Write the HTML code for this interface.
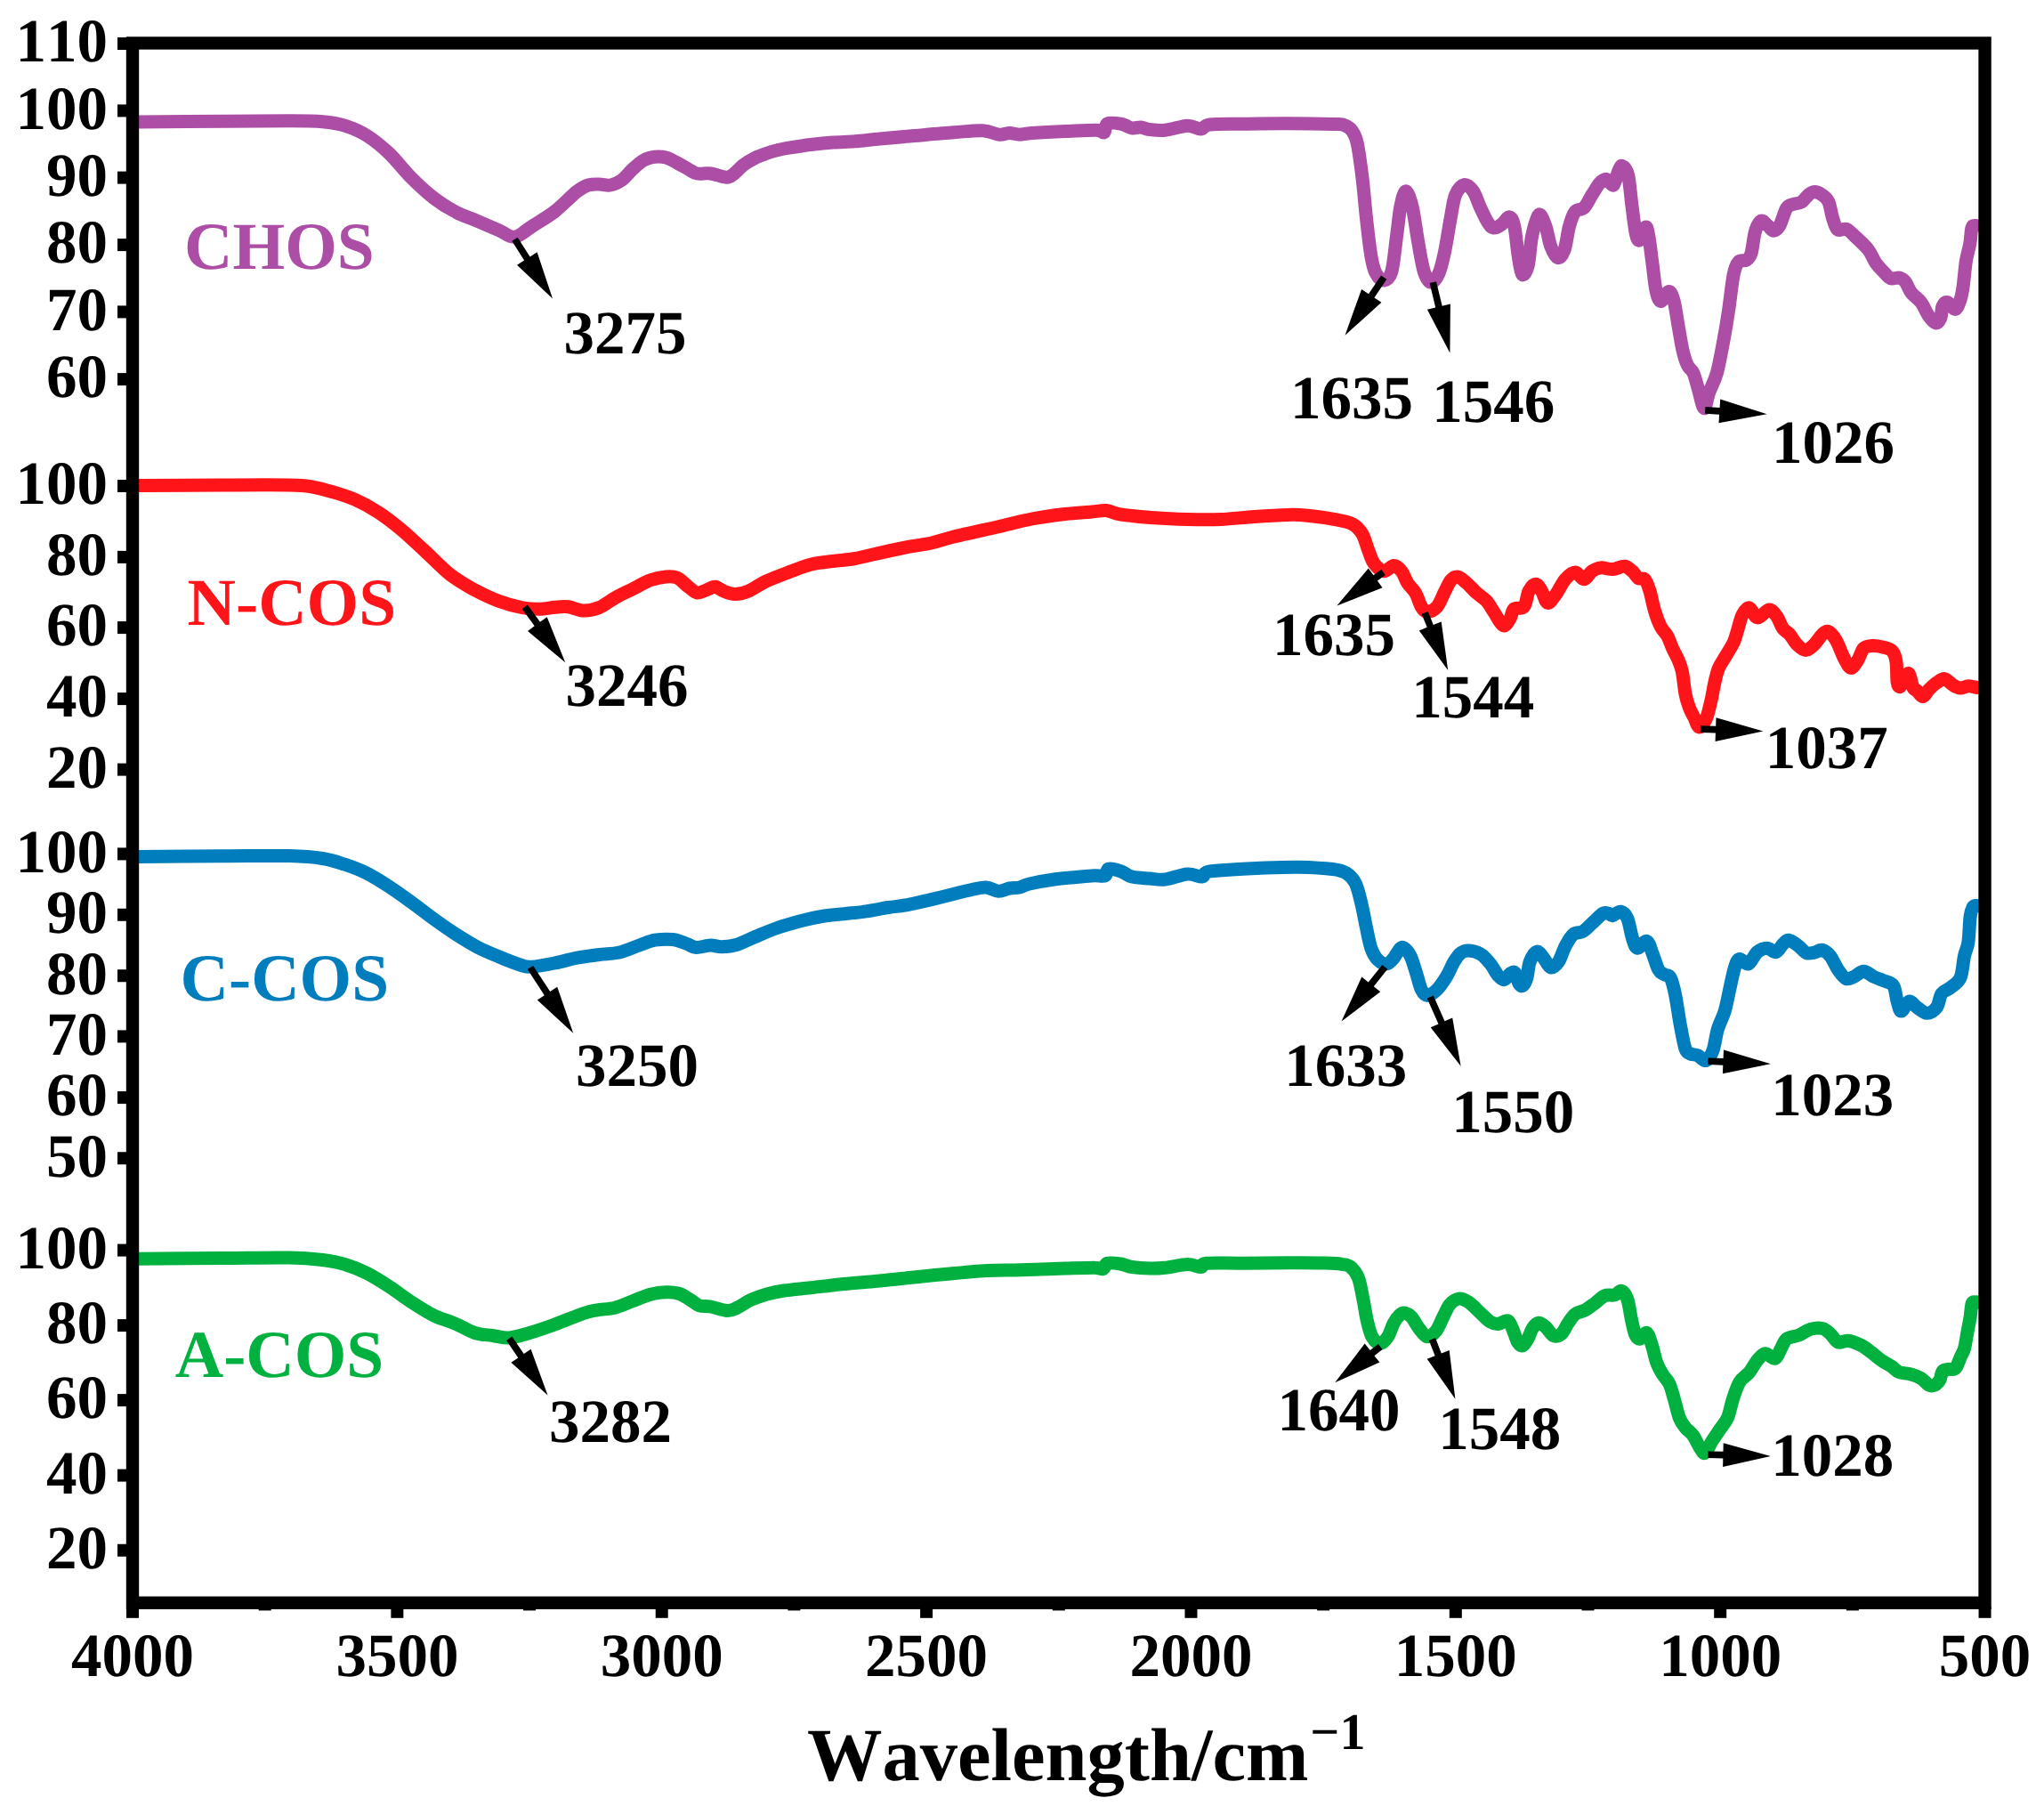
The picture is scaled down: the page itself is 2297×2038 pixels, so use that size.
<!DOCTYPE html>
<html lang="en"><head><meta charset="utf-8"><title>FTIR spectra</title>
<style>html,body{margin:0;padding:0;background:#fff}body{width:2297px;height:2038px;overflow:hidden}svg{display:block}text{font-family:"Liberation Serif","Times New Roman",serif;font-weight:bold;font-kerning:none;font-variant-ligatures:none;text-rendering:geometricPrecision}.t{font-size:69.0px}.s{font-size:75.4px}.x{font-size:84.5px}</style></head><body>
<svg width="2297" height="2038" viewBox="0 0 2297 2038">
<rect width="2297" height="2038" fill="#fff"/>
<clipPath id="pc"><rect x="150" y="49" width="2079" height="1751"/></clipPath>
<g fill="none" stroke-width="15.0" stroke-linejoin="round" stroke-linecap="round" clip-path="url(#pc)">
<path stroke="#AC4DA6" d="M149.0 136.9C150.2 136.9 139.4 137.0 156.2 136.9C173.1 136.8 221.9 136.5 250.0 136.3C278.1 136.1 306.2 135.7 325.0 135.8C343.8 135.9 352.1 135.9 362.5 136.8C372.9 137.7 379.2 138.6 387.5 141.2C395.8 143.9 404.2 147.3 412.5 152.5C420.8 157.7 429.2 164.6 437.5 172.5C445.8 180.4 454.2 191.7 462.5 200.0C470.8 208.3 479.4 216.2 487.5 222.5C495.6 228.8 502.9 233.2 511.0 237.5C519.1 241.8 527.7 244.7 536.0 248.2C544.3 251.8 553.9 255.8 561.0 258.8C568.1 261.8 572.2 267.1 578.5 266.2C584.8 265.4 591.0 258.5 598.5 253.8C606.0 249.0 615.2 244.0 623.5 237.5C631.8 231.0 642.2 219.9 648.5 215.0C654.8 210.1 656.8 209.3 661.0 208.0C665.2 206.7 669.3 207.0 673.5 207.0C677.7 207.0 681.8 208.8 686.0 208.0C690.2 207.2 694.3 205.5 698.5 202.5C702.7 199.5 706.8 193.8 711.0 190.0C715.2 186.2 719.3 182.3 723.5 180.0C727.7 177.7 731.8 176.8 736.0 176.2C740.2 175.8 744.3 175.9 748.5 177.0C752.7 178.1 756.8 180.8 761.0 183.0C765.2 185.2 769.8 188.0 773.5 190.0C777.2 192.0 779.3 194.2 783.5 195.0C787.7 195.8 793.1 194.3 798.5 195.0C803.9 195.7 811.8 199.0 816.0 199.2C820.2 199.5 820.2 198.6 823.5 196.2C826.8 193.9 831.8 188.1 836.0 185.0C840.2 181.9 844.3 179.6 848.5 177.5C852.7 175.4 856.8 174.0 861.0 172.5C865.2 171.0 869.3 169.8 873.5 168.8C877.7 167.7 879.8 167.3 886.0 166.2C892.2 165.2 902.7 163.5 911.0 162.5C919.3 161.5 927.7 160.6 936.0 160.0C944.3 159.4 952.7 159.4 961.0 158.8C969.3 158.1 975.8 157.2 986.0 156.2C996.2 155.3 1007.7 154.2 1022.0 153.0C1036.3 151.8 1058.2 149.8 1072.0 148.8C1085.8 147.7 1096.0 146.3 1104.5 146.8C1113.0 147.2 1118.0 150.8 1123.0 151.2C1128.0 151.7 1130.7 149.5 1134.5 149.5C1138.3 149.5 1141.6 151.2 1145.8 151.2C1149.9 151.2 1151.0 150.1 1159.5 149.5C1168.0 148.9 1184.9 148.0 1197.0 147.5C1209.1 147.0 1224.7 146.0 1232.0 146.2C1239.3 146.5 1238.7 150.0 1240.8 148.8C1242.8 147.5 1241.4 140.3 1244.5 138.8C1247.6 137.2 1254.9 138.4 1259.5 139.2C1264.1 140.1 1268.2 143.1 1272.0 143.8C1275.8 144.4 1278.7 142.7 1282.0 143.0C1285.3 143.3 1287.4 145.0 1292.0 145.5C1296.6 146.0 1302.4 147.0 1309.5 146.2C1316.6 145.5 1327.8 141.5 1334.5 141.2C1341.2 141.0 1345.3 145.2 1349.5 145.0C1353.7 144.8 1351.6 141.0 1359.5 140.0C1367.4 139.0 1382.4 139.5 1397.0 139.2C1411.6 139.0 1429.8 138.7 1447.0 138.8C1464.2 138.8 1489.3 139.2 1500.0 139.5C1510.7 139.8 1507.7 139.5 1511.0 140.8C1514.3 142.1 1517.4 143.9 1519.8 147.4C1522.2 150.9 1523.6 153.1 1525.4 161.7C1527.2 170.3 1529.2 185.6 1530.9 199.2C1532.6 212.8 1533.7 228.6 1535.3 243.3C1536.9 258.0 1539.0 276.7 1540.8 287.4C1542.6 298.1 1543.9 302.7 1546.3 307.3C1548.7 311.9 1552.2 315.4 1555.1 315.0C1558.0 314.6 1561.5 313.4 1563.9 305.1C1566.3 296.8 1567.8 277.5 1569.5 265.4C1571.2 253.3 1572.2 240.8 1573.9 232.3C1575.6 223.9 1577.6 214.7 1579.8 214.7C1582.0 214.7 1584.8 222.8 1587.1 232.3C1589.4 241.9 1591.5 259.9 1593.7 272.0C1595.9 284.1 1597.9 297.6 1600.3 305.1C1602.7 312.6 1605.2 316.8 1608.0 317.2C1610.8 317.6 1614.3 313.0 1616.9 307.3C1619.5 301.6 1621.3 293.3 1623.5 283.0C1625.7 272.7 1628.1 256.1 1630.1 245.5C1632.1 234.8 1633.0 225.4 1635.6 219.1C1638.2 212.8 1642.2 208.3 1645.5 207.6C1648.8 206.9 1652.5 210.6 1655.5 214.7C1658.5 218.8 1660.5 226.4 1663.2 232.3C1666.0 238.2 1669.4 245.9 1672.0 249.9C1674.6 253.9 1676.0 255.7 1678.6 256.1C1681.2 256.5 1684.5 254.2 1687.4 252.2C1690.4 250.1 1693.9 243.4 1696.3 243.8C1698.7 244.2 1700.1 247.1 1701.8 254.4C1703.5 261.7 1704.7 278.4 1706.2 287.4C1707.7 296.4 1708.8 306.5 1710.6 308.4C1712.4 310.2 1715.4 305.7 1717.2 298.5C1719.0 291.3 1719.6 275.0 1721.6 265.4C1723.6 255.8 1726.7 242.9 1729.3 241.1C1731.9 239.3 1734.8 248.5 1737.0 254.4C1739.2 260.3 1740.4 270.5 1742.6 276.4C1744.8 282.3 1747.7 288.9 1750.3 289.6C1752.9 290.3 1755.8 286.7 1758.0 280.8C1760.2 274.9 1761.5 261.6 1763.5 254.4C1765.5 247.2 1767.3 241.3 1770.1 237.8C1772.8 234.3 1776.9 236.5 1780.0 233.4C1783.1 230.3 1786.0 223.7 1788.9 219.1C1791.9 214.5 1795.0 208.8 1797.7 205.8C1800.5 202.9 1802.8 201.0 1805.4 201.4C1808.0 201.8 1810.9 209.5 1813.1 208.0C1815.3 206.5 1816.9 196.2 1818.6 192.6C1820.2 189.0 1821.2 185.7 1823.0 186.4C1824.8 187.1 1827.9 189.3 1829.7 197.0C1831.5 204.7 1832.6 221.3 1834.1 232.3C1835.6 243.3 1837.0 256.9 1838.5 263.2C1840.0 269.4 1840.9 271.1 1842.9 269.8C1844.9 268.5 1848.3 251.6 1850.6 255.5C1852.9 259.4 1854.9 281.5 1856.6 293.3C1858.3 305.1 1859.3 318.9 1861.0 326.4C1862.7 333.9 1864.1 338.3 1866.5 338.5C1868.9 338.7 1873.0 327.7 1875.4 327.5C1877.8 327.3 1879.2 331.7 1880.9 337.4C1882.6 343.1 1883.7 352.5 1885.3 361.7C1886.9 370.9 1889.0 384.5 1890.8 392.6C1892.6 400.7 1894.3 405.8 1896.3 410.2C1898.3 414.6 1900.9 414.6 1902.9 419.0C1904.9 423.4 1906.4 430.1 1908.4 436.7C1910.4 443.3 1913.0 458.0 1915.0 458.7C1917.0 459.4 1918.2 447.7 1920.6 441.1C1923.0 434.5 1926.7 428.9 1929.4 419.0C1932.2 409.1 1934.9 393.2 1937.1 381.5C1939.3 369.8 1940.8 360.6 1942.6 348.5C1944.4 336.4 1946.3 317.8 1948.1 308.8C1949.9 299.8 1951.2 297.2 1953.6 294.4C1956.0 291.6 1960.1 293.8 1962.5 292.2C1964.9 290.6 1966.3 289.8 1968.0 284.5C1969.7 279.2 1970.6 266.4 1972.4 260.3C1974.2 254.2 1976.6 249.2 1979.0 248.1C1981.4 247.0 1984.3 251.8 1986.7 253.6C1989.1 255.4 1991.1 259.2 1993.3 259.2C1995.5 259.2 1997.5 257.8 1999.9 253.6C2002.3 249.4 2005.1 237.8 2007.7 233.8C2010.3 229.8 2012.7 230.5 2015.4 229.4C2018.2 228.3 2021.3 229.0 2024.2 227.2C2027.1 225.4 2030.4 220.3 2033.0 218.4C2035.6 216.5 2037.0 215.3 2039.6 215.5C2042.2 215.7 2045.9 217.6 2048.5 219.5C2051.1 221.4 2053.3 223.0 2055.1 227.2C2056.9 231.4 2057.8 239.7 2059.5 244.8C2061.2 249.9 2062.4 255.9 2065.0 258.0C2067.6 260.1 2071.8 256.3 2074.9 257.4C2078.0 258.5 2079.6 260.9 2083.7 264.7C2087.8 268.5 2095.1 275.0 2099.2 280.1C2103.2 285.2 2105.1 291.3 2108.0 295.5C2110.9 299.7 2114.1 302.6 2116.8 305.5C2119.6 308.4 2121.6 311.6 2124.5 312.7C2127.4 313.8 2131.7 311.5 2134.5 312.1C2137.3 312.7 2138.9 313.8 2141.1 316.5C2143.3 319.2 2144.8 324.8 2147.7 328.6C2150.6 332.5 2155.4 335.2 2158.7 339.6C2162.0 344.0 2164.8 351.2 2167.5 355.1C2170.2 359.0 2173.0 362.4 2175.2 362.8C2177.4 363.2 2179.5 360.4 2180.8 357.3C2182.1 354.2 2181.7 346.9 2183.0 344.0C2184.3 341.1 2186.1 339.0 2188.5 339.6C2190.9 340.2 2194.9 347.8 2197.3 347.4C2199.7 347.0 2201.3 341.6 2202.8 337.4C2204.3 333.2 2205.0 329.4 2206.1 322.0C2207.2 314.6 2208.1 301.4 2209.4 293.3C2210.7 285.2 2212.7 279.8 2213.8 273.5C2214.9 267.2 2214.9 259.1 2216.0 255.8C2217.1 252.5 2219.8 254.0 2220.5 253.6"/>
<path stroke="#FF1419" d="M149.0 545.5C150.2 545.5 139.4 545.6 156.2 545.5C173.1 545.4 221.9 545.1 250.0 545.0C278.1 544.9 308.3 544.7 325.0 545.0C341.7 545.3 341.7 545.4 350.0 546.8C358.3 548.1 366.7 550.5 375.0 553.0C383.3 555.5 391.7 558.0 400.0 561.8C408.3 565.5 416.7 570.1 425.0 575.5C433.3 580.9 441.7 587.4 450.0 594.2C458.3 601.1 466.7 609.0 475.0 616.8C483.3 624.5 494.0 635.1 500.0 640.5C506.0 645.9 505.0 645.3 511.0 649.2C517.0 653.2 527.7 659.9 536.0 664.2C544.3 668.6 552.7 672.5 561.0 675.5C569.3 678.5 578.5 681.0 586.0 682.5C593.5 684.0 599.8 684.3 606.0 684.2C612.2 684.2 618.1 682.7 623.5 682.2C628.9 681.8 633.1 681.1 638.5 681.8C643.9 682.4 650.2 685.9 656.0 686.0C661.8 686.1 667.7 684.9 673.5 682.5C679.3 680.1 684.8 675.2 691.0 671.8C697.2 668.3 704.3 665.1 711.0 661.8C717.7 658.4 724.8 654.0 731.0 651.8C737.2 649.5 743.5 648.4 748.5 648.0C753.5 647.6 756.8 647.4 761.0 649.2C765.2 651.1 769.8 656.5 773.5 659.2C777.2 662.0 780.2 665.4 783.5 666.0C786.8 666.6 790.2 664.1 793.5 663.0C796.8 661.9 800.2 659.0 803.5 659.2C806.8 659.5 809.8 662.9 813.5 664.2C817.2 665.6 821.4 667.5 826.0 667.5C830.6 667.5 835.2 666.7 841.0 664.2C846.8 661.8 853.5 656.5 861.0 653.0C868.5 649.5 877.7 646.1 886.0 643.0C894.3 639.9 902.7 636.3 911.0 634.2C919.3 632.2 927.7 631.6 936.0 630.5C944.3 629.4 952.7 629.0 961.0 627.5C969.3 626.0 975.8 624.0 986.0 621.8C996.2 619.5 1011.8 616.2 1022.0 614.2C1032.2 612.3 1038.7 611.9 1047.0 610.0C1055.3 608.1 1059.5 606.0 1072.0 603.0C1084.5 600.0 1107.4 595.1 1122.0 591.8C1136.6 588.4 1147.0 585.4 1159.5 583.0C1172.0 580.6 1185.8 578.8 1197.0 577.5C1208.2 576.2 1219.3 575.7 1227.0 575.0C1234.7 574.3 1237.8 573.0 1243.2 573.5C1248.7 574.0 1250.5 576.6 1259.5 578.0C1268.5 579.4 1284.5 580.8 1297.0 581.8C1309.5 582.7 1322.0 583.2 1334.5 583.5C1347.0 583.8 1359.5 584.0 1372.0 583.5C1384.5 583.0 1397.0 581.3 1409.5 580.5C1422.0 579.7 1437.9 578.8 1447.0 578.5C1456.1 578.2 1455.9 577.9 1464.3 578.7C1472.7 579.5 1488.4 581.4 1497.6 583.1C1506.8 584.8 1514.2 585.9 1519.7 588.7C1525.2 591.5 1527.8 594.9 1530.8 599.7C1533.8 604.5 1535.3 612.0 1537.5 617.5C1539.7 623.0 1541.1 629.0 1544.1 633.0C1547.0 637.0 1551.5 641.4 1555.2 641.8C1558.9 642.2 1563.0 635.6 1566.3 635.6C1569.6 635.6 1572.5 638.5 1575.1 641.8C1577.7 645.0 1579.2 651.0 1581.8 655.1C1584.4 659.2 1588.1 661.8 1590.7 666.2C1593.3 670.6 1595.1 678.2 1597.3 681.7C1599.5 685.2 1601.0 687.3 1604.0 687.3C1607.0 687.3 1611.7 685.6 1615.0 681.7C1618.3 677.8 1621.3 669.0 1623.9 664.0C1626.5 659.0 1628.2 654.4 1630.6 651.8C1633.0 649.1 1635.3 647.5 1638.3 648.1C1641.2 648.7 1644.8 652.1 1648.3 655.1C1651.8 658.1 1655.7 662.9 1659.4 666.2C1663.1 669.5 1667.1 671.4 1670.4 675.1C1673.7 678.8 1676.2 683.8 1679.3 688.4C1682.4 693.0 1686.3 701.7 1689.3 702.8C1692.2 703.9 1695.0 698.1 1697.0 695.0C1699.0 691.9 1698.9 686.2 1701.5 684.0C1704.1 681.8 1709.8 685.0 1712.6 681.7C1715.4 678.4 1715.9 668.2 1718.1 664.0C1720.3 659.8 1723.4 656.2 1725.8 656.2C1728.2 656.2 1730.3 660.5 1732.5 664.0C1734.7 667.5 1736.5 676.6 1739.1 677.3C1741.7 678.0 1744.7 672.8 1748.0 668.4C1751.3 664.0 1755.4 654.9 1759.1 650.7C1762.8 646.5 1766.7 643.0 1770.2 643.0C1773.7 643.0 1777.1 650.9 1780.2 650.7C1783.3 650.5 1785.9 643.9 1789.0 641.8C1792.1 639.7 1795.1 638.3 1799.0 637.9C1802.9 637.5 1807.9 639.9 1812.3 639.6C1816.7 639.3 1821.9 635.9 1825.6 636.3C1829.3 636.7 1831.8 639.6 1834.4 641.8C1837.0 644.0 1838.8 648.1 1841.1 649.6C1843.4 651.1 1846.3 648.6 1848.5 651.0C1850.7 653.4 1852.2 658.1 1854.0 664.0C1855.8 669.9 1857.5 679.6 1859.5 686.2C1861.5 692.9 1863.8 699.1 1866.2 703.9C1868.6 708.7 1871.7 710.7 1873.9 714.8C1876.1 718.9 1877.5 723.8 1879.5 728.3C1881.5 732.8 1884.3 737.2 1886.1 741.6C1887.9 746.0 1889.2 748.6 1890.5 754.9C1891.8 761.2 1892.6 772.6 1893.9 779.3C1895.2 785.9 1896.7 790.4 1898.3 794.8C1899.9 799.2 1901.9 802.2 1903.8 805.9C1905.7 809.6 1907.2 816.5 1909.4 816.9C1911.6 817.3 1914.9 812.9 1917.1 808.1C1919.3 803.3 1921.0 795.1 1922.7 788.1C1924.4 781.1 1925.6 772.3 1927.1 766.0C1928.6 759.7 1929.5 755.2 1931.5 750.4C1933.5 745.6 1936.5 741.9 1939.3 737.1C1942.1 732.3 1946.0 726.4 1948.2 721.6C1950.4 716.8 1950.9 713.5 1952.6 708.3C1954.2 703.1 1955.9 694.9 1958.1 690.6C1960.3 686.4 1963.1 682.2 1965.9 682.8C1968.7 683.3 1971.1 693.5 1974.8 693.9C1978.5 694.3 1984.4 685.3 1988.1 685.1C1991.8 684.9 1994.3 689.3 1996.9 692.8C1999.5 696.3 2001.2 702.8 2003.6 706.1C2006.0 709.4 2008.7 709.8 2011.3 712.8C2013.9 715.8 2016.1 720.8 2019.1 723.8C2022.1 726.8 2025.8 730.5 2029.1 730.5C2032.4 730.5 2035.9 726.8 2039.0 723.8C2042.1 720.8 2045.3 715.2 2047.9 712.8C2050.5 710.4 2051.9 708.3 2054.5 709.4C2057.1 710.5 2060.4 714.4 2063.4 719.4C2066.4 724.4 2069.5 734.2 2072.3 739.4C2075.1 744.6 2077.4 750.0 2080.0 750.4C2082.6 750.8 2085.4 745.3 2087.8 741.6C2090.2 737.9 2091.8 731.0 2094.4 728.3C2097.0 725.6 2099.6 725.8 2103.3 725.6C2107.0 725.4 2112.7 726.2 2116.6 727.2C2120.5 728.2 2124.2 728.8 2126.6 731.6C2129.0 734.4 2130.1 738.1 2131.0 743.8C2131.9 749.5 2131.4 761.4 2132.1 766.0C2132.8 770.6 2133.9 772.2 2135.4 771.5C2136.9 770.8 2139.3 763.9 2141.0 761.5C2142.7 759.1 2143.9 755.2 2145.4 757.1C2146.9 759.0 2148.4 769.5 2149.9 772.6C2151.4 775.8 2152.5 774.3 2154.3 776.0C2156.1 777.7 2158.7 782.8 2160.9 782.6C2163.1 782.4 2165.0 777.4 2167.6 774.8C2170.2 772.2 2173.4 769.1 2176.4 767.1C2179.4 765.1 2182.3 762.2 2185.3 762.6C2188.3 763.0 2191.2 767.6 2194.2 769.3C2197.1 771.0 2200.1 772.8 2203.0 773.0C2205.9 773.2 2208.8 770.9 2211.9 770.8C2215.1 770.7 2220.2 772.3 2221.9 772.6"/>
<path stroke="#007DBD" d="M149.0 962.4C150.2 962.4 139.4 962.5 156.2 962.4C173.1 962.3 221.9 961.9 250.0 961.8C278.1 961.7 306.2 961.1 325.0 961.6C343.8 962.1 352.1 962.9 362.5 964.5C372.9 966.1 379.2 968.5 387.5 971.2C395.8 974.0 404.2 977.1 412.5 981.2C420.8 985.4 429.2 990.8 437.5 996.2C445.8 1001.7 454.2 1007.7 462.5 1013.8C470.8 1019.8 479.4 1026.7 487.5 1032.5C495.6 1038.3 502.9 1043.5 511.0 1048.8C519.1 1054.0 527.7 1059.4 536.0 1063.8C544.3 1068.1 552.7 1071.5 561.0 1075.0C569.3 1078.5 580.0 1082.6 586.0 1084.5C592.0 1086.4 591.0 1086.7 597.2 1086.2C603.5 1085.8 615.0 1083.7 623.5 1082.0C632.0 1080.3 640.2 1077.8 648.5 1076.2C656.8 1074.7 665.6 1073.5 673.5 1072.5C681.4 1071.5 688.5 1071.8 696.0 1070.0C703.5 1068.2 711.8 1064.3 718.5 1062.0C725.2 1059.7 729.8 1057.3 736.0 1056.2C742.2 1055.2 750.2 1054.9 756.0 1055.5C761.8 1056.1 766.6 1058.5 771.0 1060.0C775.4 1061.5 777.7 1064.2 782.2 1064.5C786.8 1064.8 793.7 1062.1 798.5 1062.0C803.3 1061.9 806.0 1063.9 811.0 1063.8C816.0 1063.6 822.2 1063.1 828.5 1061.2C834.8 1059.4 841.0 1055.6 848.5 1052.5C856.0 1049.4 865.2 1045.4 873.5 1042.5C881.8 1039.6 890.2 1037.2 898.5 1035.0C906.8 1032.8 915.2 1030.9 923.5 1029.5C931.8 1028.1 940.2 1027.7 948.5 1026.8C956.8 1025.8 965.2 1025.0 973.5 1023.8C981.8 1022.5 990.4 1020.8 998.5 1019.5C1006.6 1018.2 1011.8 1018.2 1022.0 1016.2C1032.2 1014.2 1047.8 1010.3 1059.5 1007.5C1071.2 1004.7 1083.9 1001.2 1092.0 999.5C1100.1 997.8 1103.2 996.7 1108.2 997.0C1113.2 997.3 1117.6 1001.1 1122.0 1001.2C1126.4 1001.4 1130.5 998.7 1134.5 998.0C1138.5 997.3 1142.0 997.8 1145.8 997.0C1149.5 996.2 1150.5 994.5 1157.0 993.0C1163.5 991.5 1175.8 989.2 1184.5 988.0C1193.2 986.8 1202.0 986.2 1209.5 985.5C1217.0 984.8 1224.1 984.0 1229.5 983.8C1234.9 983.5 1239.3 985.0 1242.0 983.8C1244.7 982.5 1242.8 977.1 1245.8 976.2C1248.7 975.4 1255.1 977.3 1259.5 978.8C1263.9 980.2 1266.6 983.6 1272.0 985.0C1277.4 986.4 1285.8 986.5 1292.0 987.0C1298.2 987.5 1302.4 988.8 1309.5 988.0C1316.6 987.2 1327.6 982.5 1334.5 982.0C1341.4 981.5 1347.0 985.4 1350.8 985.0C1354.5 984.6 1351.4 980.8 1357.0 979.5C1362.6 978.2 1373.7 977.8 1384.5 977.0C1395.3 976.2 1409.5 975.5 1422.0 975.0C1434.5 974.5 1446.9 974.0 1459.5 974.2C1472.1 974.5 1488.7 975.4 1497.6 976.5C1506.5 977.6 1508.8 978.4 1513.1 981.0C1517.3 983.6 1520.3 986.6 1523.1 992.1C1525.9 997.6 1527.7 1006.1 1529.7 1014.2C1531.7 1022.3 1533.4 1032.3 1535.2 1040.8C1537.0 1049.3 1538.6 1058.9 1540.8 1065.2C1543.0 1071.5 1545.5 1075.5 1548.5 1078.5C1551.5 1081.5 1555.5 1083.3 1558.5 1082.9C1561.5 1082.5 1563.9 1079.1 1566.3 1076.3C1568.7 1073.5 1571.1 1068.2 1572.9 1066.3C1574.8 1064.4 1575.4 1063.5 1577.4 1064.8C1579.4 1066.1 1582.7 1069.2 1585.1 1074.1C1587.5 1079.0 1589.8 1087.7 1591.8 1094.0C1593.8 1100.3 1595.3 1107.6 1597.3 1111.7C1599.3 1115.8 1601.0 1118.4 1604.0 1118.4C1607.0 1118.4 1611.3 1115.4 1615.0 1111.7C1618.7 1108.0 1622.9 1101.4 1626.1 1096.2C1629.2 1091.0 1631.3 1085.0 1633.9 1080.7C1636.5 1076.5 1638.8 1072.8 1641.6 1070.7C1644.4 1068.6 1646.8 1067.7 1650.5 1067.9C1654.2 1068.1 1659.7 1069.3 1663.8 1071.8C1667.9 1074.3 1671.6 1078.8 1674.9 1082.9C1678.2 1087.0 1681.1 1093.2 1683.7 1096.2C1686.3 1099.2 1688.2 1101.1 1690.4 1100.7C1692.6 1100.3 1695.0 1095.3 1697.0 1094.0C1699.0 1092.7 1700.9 1091.1 1702.6 1092.9C1704.3 1094.8 1705.5 1102.7 1707.0 1105.1C1708.5 1107.5 1710.0 1108.4 1711.5 1107.3C1713.0 1106.2 1714.6 1102.8 1715.9 1098.4C1717.2 1094.0 1717.4 1085.6 1719.2 1080.7C1721.0 1075.8 1724.4 1069.9 1727.0 1069.2C1729.6 1068.5 1732.1 1073.3 1734.7 1076.3C1737.3 1079.2 1739.7 1086.2 1742.5 1086.9C1745.3 1087.6 1748.5 1084.7 1751.3 1080.7C1754.1 1076.7 1756.3 1068.2 1759.1 1063.0C1761.9 1057.8 1764.7 1052.5 1768.0 1049.7C1771.3 1046.9 1775.3 1048.6 1779.0 1046.4C1782.7 1044.2 1786.4 1039.7 1790.1 1036.4C1793.8 1033.1 1798.2 1028.1 1801.2 1026.4C1804.2 1024.7 1806.1 1026.0 1807.9 1026.4C1809.8 1026.8 1810.1 1029.0 1812.3 1028.6C1814.5 1028.2 1818.4 1023.6 1821.2 1024.2C1824.0 1024.8 1826.7 1027.0 1828.9 1032.0C1831.1 1037.0 1832.7 1048.6 1834.5 1054.1C1836.3 1059.6 1837.3 1064.7 1840.0 1065.2C1842.7 1065.8 1847.7 1056.3 1850.6 1057.4C1853.5 1058.5 1855.1 1066.4 1857.3 1071.8C1859.5 1077.2 1861.7 1085.7 1863.9 1089.6C1866.1 1093.5 1868.4 1093.6 1870.6 1095.1C1872.8 1096.6 1875.2 1094.5 1877.2 1098.4C1879.2 1102.3 1881.0 1109.5 1882.8 1118.4C1884.6 1127.3 1886.4 1141.6 1888.3 1151.6C1890.2 1161.6 1892.1 1172.8 1893.9 1178.2C1895.8 1183.6 1897.0 1182.5 1899.4 1183.8C1901.8 1185.1 1905.3 1184.7 1908.3 1186.0C1911.2 1187.3 1914.3 1192.4 1917.1 1191.5C1919.9 1190.6 1922.7 1186.3 1924.9 1180.4C1927.1 1174.5 1928.2 1163.5 1930.4 1156.1C1932.6 1148.7 1936.0 1143.5 1938.2 1136.1C1940.4 1128.7 1941.9 1119.8 1943.7 1111.7C1945.5 1103.6 1947.5 1093.1 1949.3 1087.4C1951.1 1081.7 1952.2 1078.2 1954.8 1077.4C1957.4 1076.7 1961.5 1084.2 1964.8 1082.9C1968.1 1081.6 1971.3 1072.5 1974.8 1069.6C1978.3 1066.6 1982.3 1065.2 1985.8 1065.2C1989.3 1065.2 1992.8 1070.3 1995.8 1069.6C1998.8 1068.9 2001.2 1063.0 2003.6 1060.8C2006.0 1058.6 2007.2 1055.9 2010.2 1056.3C2013.2 1056.7 2018.0 1060.6 2021.3 1063.0C2024.6 1065.4 2027.2 1069.5 2030.2 1070.7C2033.2 1071.9 2036.0 1070.6 2039.0 1070.1C2042.0 1069.5 2044.9 1066.7 2047.9 1067.4C2050.9 1068.1 2053.9 1070.4 2056.8 1074.1C2059.8 1077.8 2062.7 1085.4 2065.6 1089.6C2068.5 1093.8 2071.5 1098.2 2074.5 1099.5C2077.5 1100.8 2080.1 1098.7 2083.4 1097.3C2086.7 1095.9 2090.7 1091.3 2094.4 1091.3C2098.1 1091.3 2101.8 1095.5 2105.5 1097.3C2109.2 1099.0 2112.9 1100.1 2116.6 1101.8C2120.3 1103.5 2125.1 1103.4 2127.7 1107.3C2130.3 1111.2 2130.6 1120.2 2132.1 1125.0C2133.6 1129.8 2134.4 1136.1 2136.6 1136.1C2138.8 1136.1 2142.4 1125.7 2145.4 1125.0C2148.4 1124.3 2151.0 1129.5 2154.3 1131.7C2157.6 1133.9 2161.7 1138.3 2165.4 1138.3C2169.1 1138.3 2173.6 1135.4 2176.4 1131.7C2179.2 1128.0 2179.4 1119.9 2182.0 1116.2C2184.6 1112.5 2188.5 1112.5 2192.0 1109.5C2195.5 1106.5 2200.4 1104.3 2203.0 1098.4C2205.6 1092.5 2206.0 1080.8 2207.5 1074.1C2209.0 1067.4 2210.8 1065.9 2211.9 1058.5C2213.0 1051.1 2213.2 1036.3 2214.1 1029.7C2215.0 1023.1 2216.2 1020.7 2217.5 1018.7C2218.8 1016.7 2221.2 1017.7 2221.9 1017.5"/>
<path stroke="#00B140" d="M149.0 1414.2C150.2 1414.2 139.4 1414.4 156.2 1414.2C173.1 1414.1 221.9 1413.7 250.0 1413.5C278.1 1413.3 306.2 1412.7 325.0 1413.0C343.8 1413.3 352.1 1414.2 362.5 1415.5C372.9 1416.8 379.2 1418.0 387.5 1420.5C395.8 1423.0 404.2 1426.3 412.5 1430.5C420.8 1434.7 429.2 1440.1 437.5 1445.5C445.8 1450.9 454.2 1457.6 462.5 1463.0C470.8 1468.4 479.4 1474.0 487.5 1478.0C495.6 1482.0 503.3 1483.5 511.0 1486.8C518.7 1490.0 526.4 1495.2 533.5 1497.5C540.6 1499.8 547.0 1499.6 553.5 1500.5C560.0 1501.4 565.6 1503.4 572.2 1503.0C578.9 1502.6 585.0 1500.5 593.5 1498.0C602.0 1495.5 613.1 1491.8 623.5 1488.0C633.9 1484.2 648.1 1478.2 656.0 1475.5C663.9 1472.8 665.2 1472.8 671.0 1471.8C676.8 1470.7 684.3 1470.9 691.0 1469.2C697.7 1467.6 704.3 1464.2 711.0 1461.8C717.7 1459.2 724.8 1455.9 731.0 1454.2C737.2 1452.6 743.1 1451.9 748.5 1451.8C753.9 1451.6 758.9 1452.0 763.5 1453.5C768.1 1455.0 772.2 1458.3 776.0 1460.5C779.8 1462.7 782.2 1465.5 786.0 1466.8C789.8 1468.0 793.3 1467.0 798.5 1468.0C803.7 1469.0 812.2 1472.3 817.2 1472.5C822.2 1472.7 824.1 1471.2 828.5 1469.2C832.9 1467.2 838.1 1463.0 843.5 1460.5C848.9 1458.0 854.8 1456.0 861.0 1454.2C867.2 1452.5 872.7 1451.2 881.0 1450.0C889.3 1448.8 899.8 1448.0 911.0 1446.8C922.2 1445.5 936.0 1443.8 948.5 1442.5C961.0 1441.2 973.8 1440.4 986.0 1439.2C998.2 1438.1 1009.8 1436.8 1022.0 1435.5C1034.2 1434.2 1044.9 1433.1 1059.5 1431.8C1074.1 1430.4 1094.9 1428.3 1109.5 1427.5C1124.1 1426.7 1132.4 1427.2 1147.0 1426.8C1161.6 1426.3 1183.2 1425.4 1197.0 1425.0C1210.8 1424.6 1222.4 1424.2 1229.5 1424.2C1236.6 1424.3 1237.0 1426.3 1239.5 1425.5C1242.0 1424.7 1241.2 1420.2 1244.5 1419.2C1247.8 1418.3 1254.9 1419.3 1259.5 1420.0C1264.1 1420.7 1266.6 1422.7 1272.0 1423.5C1277.4 1424.3 1285.8 1424.9 1292.0 1425.0C1298.2 1425.1 1302.4 1425.0 1309.5 1424.2C1316.6 1423.5 1327.8 1420.6 1334.5 1420.5C1341.2 1420.4 1346.0 1423.7 1349.5 1423.5C1353.0 1423.3 1347.8 1420.0 1355.8 1419.2C1363.7 1418.5 1381.8 1419.3 1397.0 1419.2C1412.2 1419.2 1431.5 1418.8 1447.0 1418.8C1462.5 1418.7 1479.8 1418.8 1490.0 1419.1C1500.2 1419.4 1503.4 1419.6 1508.0 1420.3C1512.6 1421.0 1514.4 1420.7 1517.5 1423.2C1520.6 1425.7 1524.0 1429.3 1526.4 1435.4C1528.8 1441.5 1530.2 1451.6 1531.9 1459.7C1533.6 1467.8 1534.7 1477.1 1536.4 1484.1C1538.1 1491.1 1539.5 1497.5 1541.9 1501.8C1544.3 1506.0 1547.8 1509.6 1550.8 1509.6C1553.8 1509.6 1557.0 1505.7 1559.6 1501.8C1562.2 1497.9 1564.1 1490.3 1566.3 1486.3C1568.5 1482.2 1570.9 1479.3 1572.9 1477.5C1574.9 1475.7 1576.3 1474.8 1578.5 1475.2C1580.7 1475.6 1583.4 1476.7 1586.2 1479.7C1589.0 1482.7 1592.1 1489.3 1595.1 1493.0C1598.1 1496.7 1600.9 1501.4 1604.0 1501.8C1607.1 1502.2 1611.0 1498.9 1613.9 1495.2C1616.9 1491.5 1619.1 1484.7 1621.7 1479.7C1624.3 1474.7 1626.5 1468.7 1629.4 1465.3C1632.4 1461.9 1635.9 1459.5 1639.4 1459.1C1642.9 1458.7 1646.4 1460.4 1650.5 1463.1C1654.6 1465.8 1659.7 1471.5 1663.8 1475.2C1667.9 1478.9 1671.6 1483.2 1674.9 1485.2C1678.2 1487.2 1680.4 1487.6 1683.7 1487.4C1687.0 1487.2 1691.8 1482.4 1694.8 1484.1C1697.8 1485.8 1699.7 1493.3 1701.5 1497.4C1703.3 1501.5 1704.2 1506.1 1705.9 1508.5C1707.6 1510.9 1709.6 1512.5 1711.4 1511.8C1713.2 1511.1 1715.2 1507.4 1717.0 1504.1C1718.8 1500.8 1720.5 1494.9 1722.5 1491.9C1724.5 1488.9 1726.8 1486.5 1729.2 1486.3C1731.6 1486.1 1734.1 1488.4 1736.9 1490.8C1739.7 1493.2 1742.8 1499.4 1745.8 1500.7C1748.8 1502.0 1751.9 1500.9 1754.7 1498.5C1757.5 1496.1 1759.8 1490.0 1762.4 1486.3C1765.0 1482.6 1767.1 1478.8 1770.2 1476.4C1773.3 1474.0 1777.6 1473.9 1781.3 1471.9C1785.0 1469.9 1788.6 1466.9 1792.3 1464.2C1796.0 1461.5 1799.7 1457.2 1803.4 1455.7C1807.1 1454.2 1811.3 1455.8 1814.5 1454.9C1817.7 1454.0 1819.9 1449.6 1822.3 1450.4C1824.7 1451.2 1827.1 1454.5 1828.9 1459.7C1830.7 1465.0 1831.8 1475.2 1833.3 1481.9C1834.8 1488.6 1836.1 1495.9 1837.8 1499.6C1839.5 1503.3 1841.2 1504.5 1843.3 1504.1C1845.4 1503.7 1848.4 1496.3 1850.6 1497.4C1852.8 1498.5 1854.3 1505.2 1856.2 1510.7C1858.1 1516.2 1859.7 1525.2 1861.7 1530.7C1863.7 1536.2 1866.0 1540.0 1868.4 1544.0C1870.8 1548.0 1873.9 1550.2 1876.1 1555.0C1878.3 1559.8 1879.8 1566.5 1881.7 1572.8C1883.6 1579.1 1885.2 1587.5 1887.2 1592.7C1889.2 1597.9 1891.3 1600.5 1893.9 1603.8C1896.5 1607.1 1900.1 1609.2 1902.7 1612.7C1905.3 1616.2 1907.2 1621.6 1909.4 1624.9C1911.6 1628.2 1913.6 1633.5 1916.0 1632.6C1918.4 1631.7 1921.0 1623.7 1923.8 1619.3C1926.6 1614.9 1929.8 1610.4 1932.7 1606.0C1935.7 1601.6 1939.1 1598.2 1941.5 1592.7C1943.9 1587.2 1944.9 1579.5 1947.1 1572.8C1949.3 1566.1 1951.7 1558.0 1954.8 1552.8C1957.9 1547.6 1962.6 1545.8 1965.9 1541.7C1969.2 1537.6 1971.8 1531.9 1974.8 1528.4C1977.8 1524.9 1980.3 1521.1 1983.6 1520.7C1986.9 1520.3 1991.7 1527.1 1994.7 1526.2C1997.7 1525.3 1999.2 1518.8 2001.4 1515.1C2003.6 1511.4 2004.7 1506.6 2008.0 1504.1C2011.3 1501.6 2016.9 1501.9 2021.3 1500.1C2025.7 1498.3 2030.2 1494.7 2034.6 1493.4C2039.0 1492.1 2044.2 1491.7 2047.9 1492.5C2051.6 1493.3 2053.9 1495.9 2056.8 1498.5C2059.8 1501.1 2062.3 1506.7 2065.6 1508.0C2068.9 1509.3 2072.3 1505.7 2076.7 1506.3C2081.1 1506.9 2087.8 1509.6 2092.2 1511.8C2096.6 1514.0 2099.6 1516.8 2103.3 1519.6C2107.0 1522.4 2110.7 1525.8 2114.4 1528.4C2118.1 1531.0 2122.2 1532.9 2125.5 1535.1C2128.8 1537.3 2131.0 1540.3 2134.3 1541.7C2137.6 1543.1 2141.3 1542.4 2145.4 1543.5C2149.5 1544.6 2155.0 1546.3 2158.7 1548.4C2162.4 1550.5 2165.0 1554.8 2167.6 1556.1C2170.2 1557.4 2172.2 1557.0 2174.2 1556.1C2176.2 1555.2 2178.3 1553.2 2179.8 1550.6C2181.3 1548.0 2181.4 1542.6 2183.1 1540.6C2184.8 1538.6 2187.3 1539.0 2189.7 1538.4C2192.1 1537.9 2195.3 1539.5 2197.5 1537.3C2199.7 1535.1 2201.3 1528.8 2203.0 1525.1C2204.7 1521.4 2206.2 1519.7 2207.5 1515.1C2208.8 1510.5 2209.7 1503.3 2210.8 1497.4C2211.9 1491.5 2213.2 1485.2 2214.1 1479.7C2215.0 1474.2 2215.0 1467.0 2216.3 1464.2C2217.6 1461.4 2221.0 1463.3 2221.9 1463.1"/>
</g>
<rect x="149.0" y="48.45" width="2081.55" height="1752.3" fill="none" stroke="#000" stroke-width="14.4"/>
<g fill="#000">
<rect x="132" y="42.00" width="12" height="14"/>
<rect x="132" y="117.40" width="12" height="14"/>
<rect x="132" y="192.60" width="12" height="14"/>
<rect x="132" y="268.10" width="12" height="14"/>
<rect x="132" y="343.40" width="12" height="14"/>
<rect x="132" y="419.10" width="12" height="14"/>
<rect x="132" y="539.00" width="12" height="14"/>
<rect x="132" y="618.90" width="12" height="14"/>
<rect x="132" y="698.10" width="12" height="14"/>
<rect x="132" y="778.10" width="12" height="14"/>
<rect x="132" y="857.60" width="12" height="14"/>
<rect x="132" y="952.40" width="12" height="14"/>
<rect x="132" y="1020.75" width="12" height="14"/>
<rect x="132" y="1089.25" width="12" height="14"/>
<rect x="132" y="1157.40" width="12" height="14"/>
<rect x="132" y="1226.10" width="12" height="14"/>
<rect x="132" y="1294.25" width="12" height="14"/>
<rect x="132" y="1397.60" width="12" height="14"/>
<rect x="132" y="1482.10" width="12" height="14"/>
<rect x="132" y="1566.10" width="12" height="14"/>
<rect x="132" y="1650.60" width="12" height="14"/>
<rect x="132" y="1734.75" width="12" height="14"/>
<rect x="142.00" y="1805" width="14" height="12.8"/>
<rect x="439.36" y="1805" width="14" height="12.8"/>
<rect x="736.73" y="1805" width="14" height="12.8"/>
<rect x="1034.09" y="1805" width="14" height="12.8"/>
<rect x="1331.46" y="1805" width="14" height="12.8"/>
<rect x="1628.82" y="1805" width="14" height="12.8"/>
<rect x="1926.19" y="1805" width="14" height="12.8"/>
<rect x="2223.55" y="1805" width="14" height="12.8"/>
<rect x="290.68" y="1805" width="14" height="4.4"/>
<rect x="588.05" y="1805" width="14" height="4.4"/>
<rect x="885.41" y="1805" width="14" height="4.4"/>
<rect x="1182.78" y="1805" width="14" height="4.4"/>
<rect x="1480.14" y="1805" width="14" height="4.4"/>
<rect x="1777.50" y="1805" width="14" height="4.4"/>
<rect x="2074.87" y="1805" width="14" height="4.4"/>
<polygon points="575.3,270.8 589.1,292.5 581.0,297.7 621.0,335.5 603.6,283.3 595.6,288.4 581.7,266.7"/>
<polygon points="1551.9,309.6 1538.0,330.2 1530.1,324.9 1511.5,376.7 1552.4,339.8 1544.4,334.5 1558.3,313.8"/>
<polygon points="1606.6,318.1 1613.2,345.6 1603.9,347.8 1629.4,396.6 1629.9,341.5 1620.7,343.8 1614.0,316.3"/>
<polygon points="1916.0,464.7 1932.1,465.8 1931.5,475.3 1985.6,465.3 1933.2,448.5 1932.6,458.1 1916.4,457.1"/>
<polygon points="586.6,684.0 600.7,703.3 593.0,709.0 635.2,744.2 614.7,693.2 606.9,698.8 592.9,679.5"/>
<polygon points="1552.3,639.8 1543.4,646.2 1537.8,638.5 1502.4,680.6 1553.5,660.2 1547.9,652.5 1556.9,646.0"/>
<polygon points="1597.6,689.8 1603.7,704.8 1594.8,708.4 1627.2,752.9 1619.7,698.4 1610.8,701.9 1604.8,687.0"/>
<polygon points="1910.8,822.9 1927.9,823.5 1927.6,833.1 1981.4,821.4 1928.5,806.3 1928.2,815.8 1911.0,815.3"/>
<polygon points="592.8,1089.1 611.8,1118.2 603.8,1123.4 644.2,1160.8 626.2,1108.7 618.2,1114.0 599.2,1084.9"/>
<polygon points="1553.3,1083.9 1537.7,1103.4 1530.3,1097.5 1507.5,1147.6 1551.2,1114.2 1543.8,1108.2 1559.3,1088.7"/>
<polygon points="1603.8,1121.8 1616.5,1150.4 1607.7,1154.3 1641.6,1197.7 1632.2,1143.4 1623.5,1147.3 1610.8,1118.6"/>
<polygon points="1919.2,1196.0 1936.3,1196.8 1935.9,1206.3 1989.8,1195.3 1937.0,1179.6 1936.6,1189.1 1919.6,1188.4"/>
<polygon points="569.1,1505.9 582.3,1525.5 574.4,1530.8 615.5,1567.5 596.6,1515.8 588.7,1521.1 575.4,1501.6"/>
<polygon points="1548.8,1509.9 1539.7,1517.1 1533.7,1509.6 1500.2,1553.3 1550.4,1530.6 1544.4,1523.2 1553.6,1515.9"/>
<polygon points="1605.9,1505.9 1612.6,1523.3 1603.7,1526.7 1635.4,1571.7 1628.7,1517.1 1619.8,1520.5 1613.1,1503.1"/>
<polygon points="1919.3,1638.0 1936.3,1638.5 1936.1,1648.0 1989.8,1635.9 1936.7,1621.2 1936.5,1630.8 1919.5,1630.4"/>
</g>
<g class="t" fill="#000">
<text x="121.1" y="69.2" text-anchor="end">110</text>
<text x="121.1" y="144.6" text-anchor="end">100</text>
<text x="121.1" y="219.8" text-anchor="end">90</text>
<text x="121.1" y="295.3" text-anchor="end">80</text>
<text x="121.1" y="370.6" text-anchor="end">70</text>
<text x="121.1" y="446.3" text-anchor="end">60</text>
<text x="121.1" y="566.2" text-anchor="end">100</text>
<text x="121.1" y="646.1" text-anchor="end">80</text>
<text x="121.1" y="725.3" text-anchor="end">60</text>
<text x="121.1" y="805.3" text-anchor="end">40</text>
<text x="121.1" y="884.8" text-anchor="end">20</text>
<text x="121.1" y="979.6" text-anchor="end">100</text>
<text x="121.1" y="1048.0" text-anchor="end">90</text>
<text x="121.1" y="1116.5" text-anchor="end">80</text>
<text x="121.1" y="1184.6" text-anchor="end">70</text>
<text x="121.1" y="1253.3" text-anchor="end">60</text>
<text x="121.1" y="1321.5" text-anchor="end">50</text>
<text x="121.1" y="1424.8" text-anchor="end">100</text>
<text x="121.1" y="1509.3" text-anchor="end">80</text>
<text x="121.1" y="1593.3" text-anchor="end">60</text>
<text x="121.1" y="1677.8" text-anchor="end">40</text>
<text x="121.1" y="1762.0" text-anchor="end">20</text>
<text x="149.0" y="1882.5" text-anchor="middle">4000</text>
<text x="446.4" y="1882.5" text-anchor="middle">3500</text>
<text x="743.7" y="1882.5" text-anchor="middle">3000</text>
<text x="1041.1" y="1882.5" text-anchor="middle">2500</text>
<text x="1338.5" y="1882.5" text-anchor="middle">2000</text>
<text x="1635.8" y="1882.5" text-anchor="middle">1500</text>
<text x="1933.2" y="1882.5" text-anchor="middle">1000</text>
<text x="2230.6" y="1882.5" text-anchor="middle">500</text>
<text x="633.4" y="396.8">3275</text>
<text x="1450.0" y="469.8">1635</text>
<text x="1609.2" y="473.5">1546</text>
<text x="1991.1" y="520.2">1026</text>
<text x="635.4" y="792.8">3246</text>
<text x="1430.0" y="736.4">1635</text>
<text x="1586.3" y="806.3">1544</text>
<text x="1983.7" y="862.8">1037</text>
<text x="647.1" y="1220.0">3250</text>
<text x="1443.3" y="1219.6">1633</text>
<text x="1631.3" y="1272.4">1550</text>
<text x="1990.3" y="1253.3">1023</text>
<text x="617.1" y="1620.3">3282</text>
<text x="1435.5" y="1607.1">1640</text>
<text x="1616.2" y="1627.9">1548</text>
<text x="1990.3" y="1658.1">1028</text>
</g>
<g class="s">
<text x="207.1" y="301.8" fill="#AC4DA6">CHOS</text>
<text x="210.6" y="702.2" fill="#FF1419">N-COS</text>
<text x="202.6" y="1123.8" fill="#007DBD">C-COS</text>
<text x="196.7" y="1547.2" fill="#00B140">A-COS</text>
</g>
<text class="x" x="907.1" y="1999.8" fill="#000">Wavelength/cm<tspan font-size="58" dy="-34.7" dx="2">−1</tspan></text>
</svg></body></html>
